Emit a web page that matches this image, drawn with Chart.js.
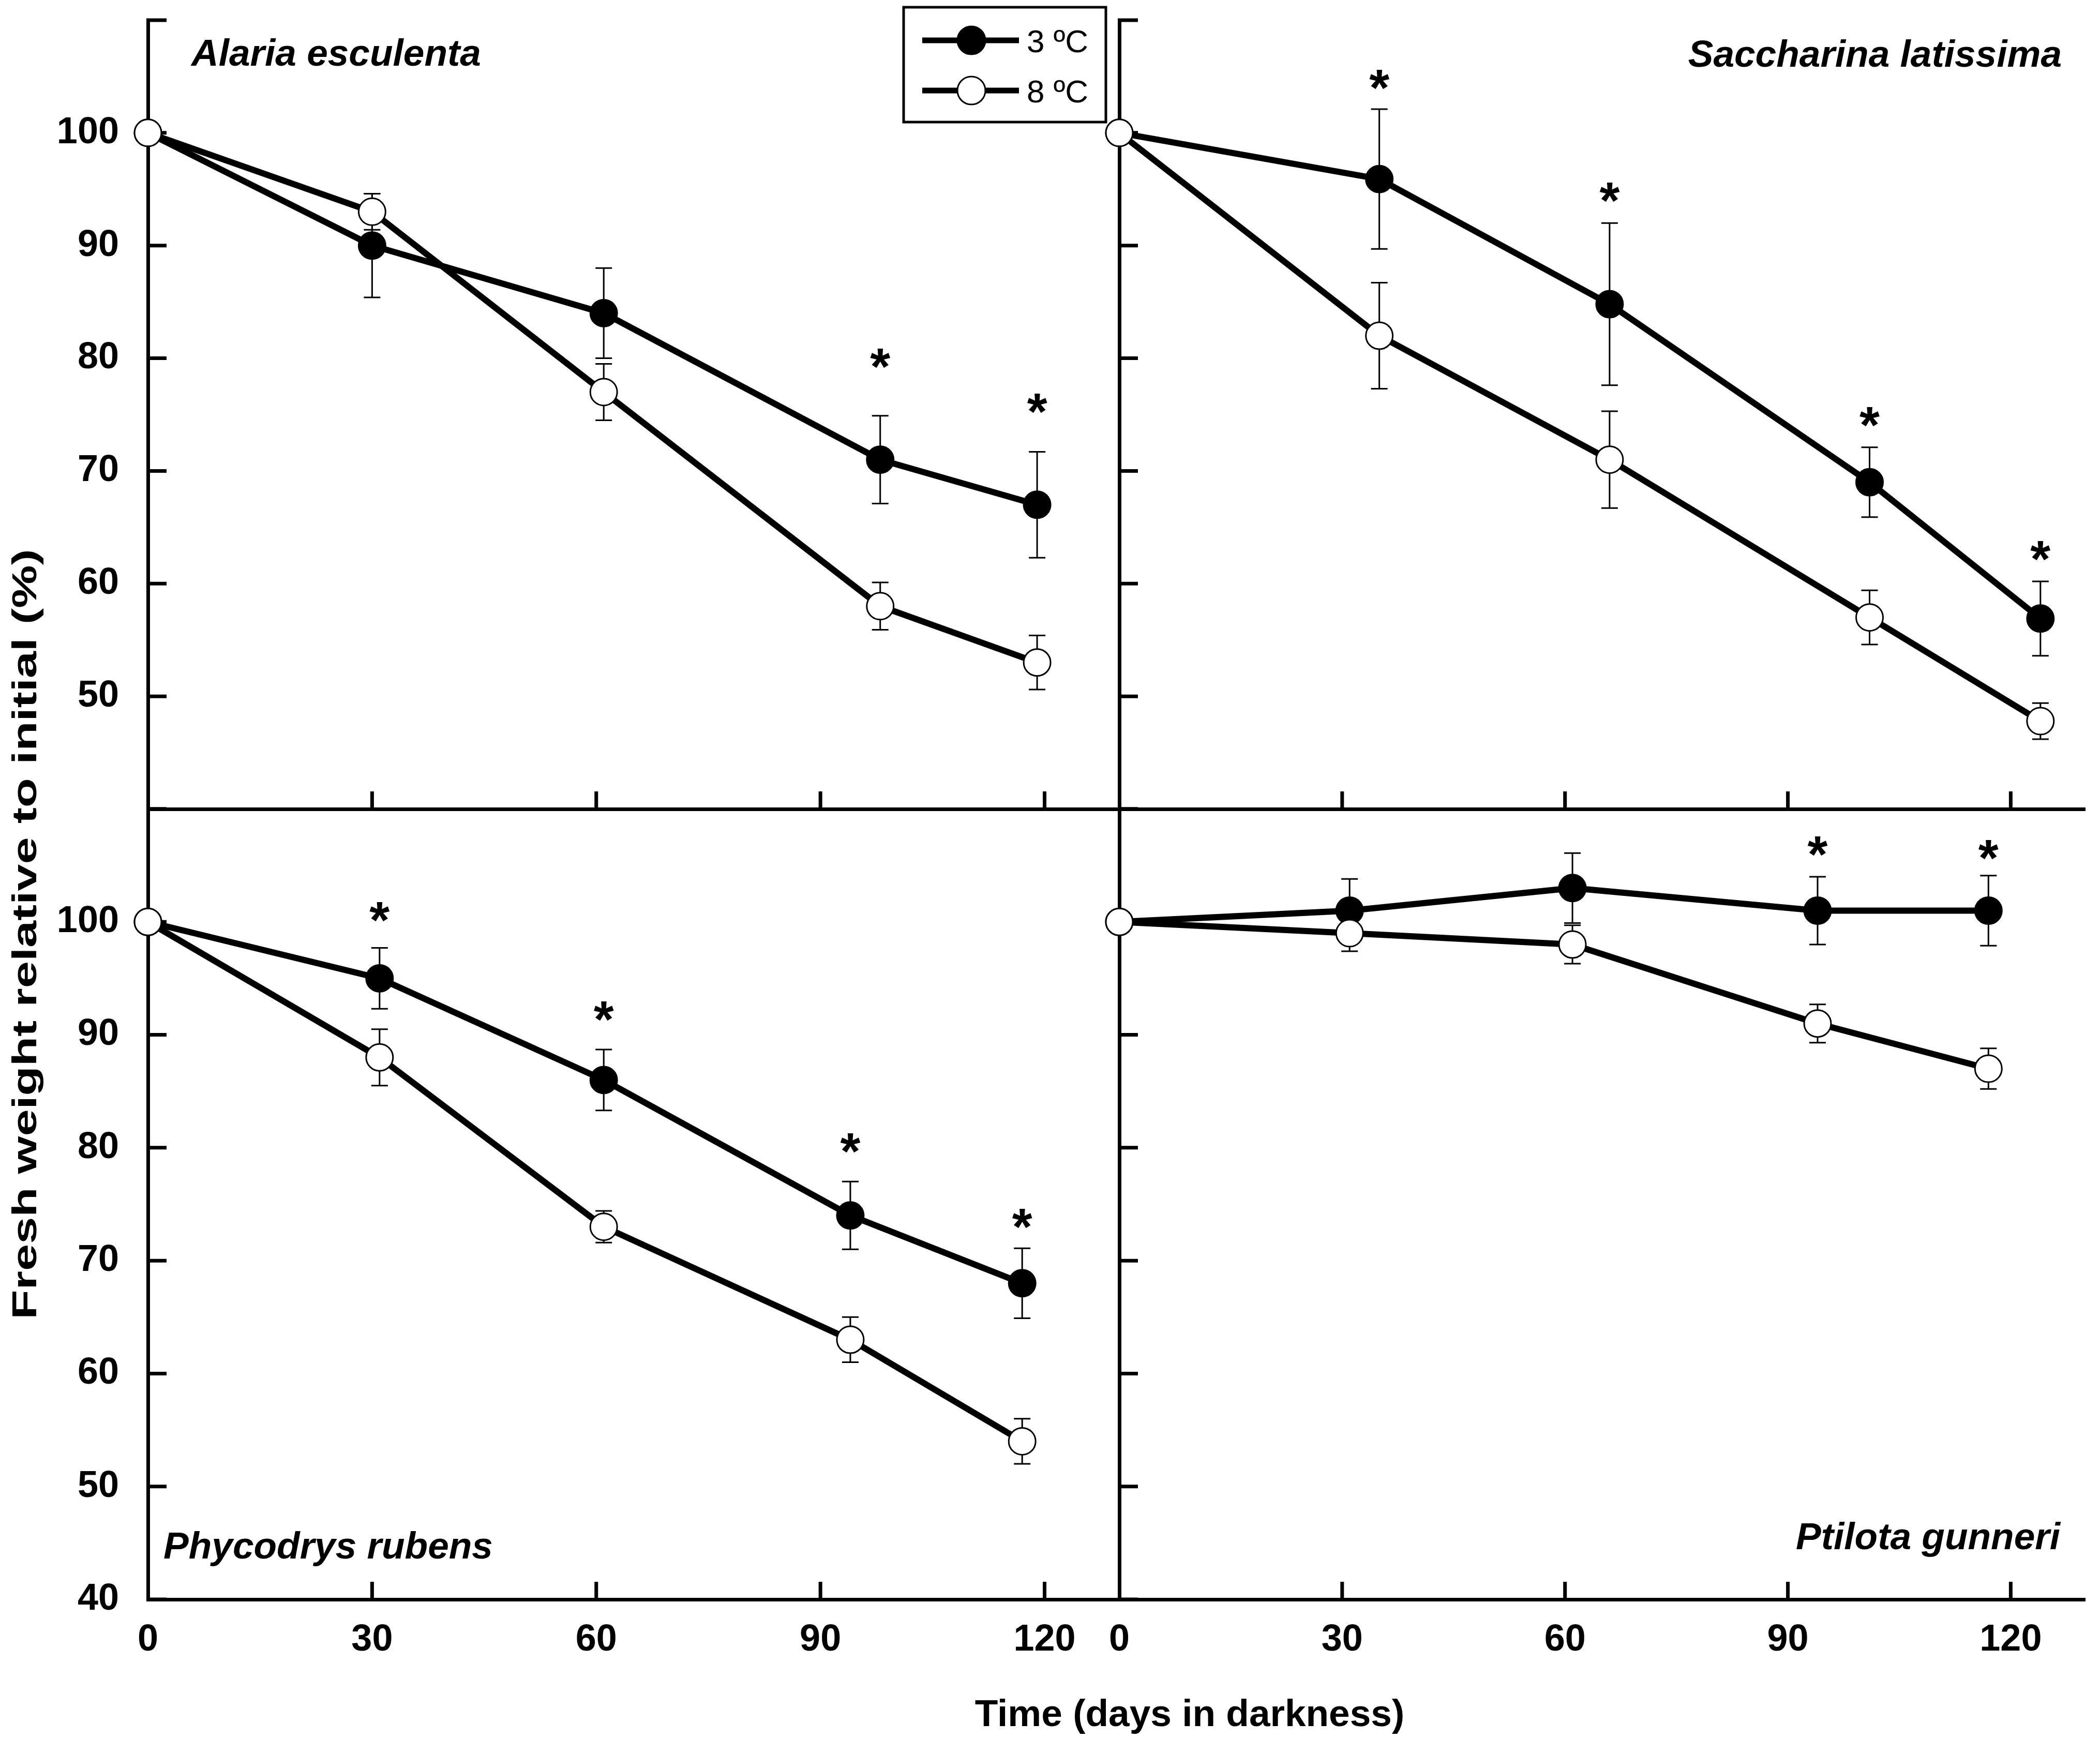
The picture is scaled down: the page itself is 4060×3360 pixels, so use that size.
<!DOCTYPE html>
<html>
<head>
<meta charset="utf-8">
<title>Fresh weight in darkness</title>
<script src="https://cdn.jsdelivr.net/npm/chart.js@4.4.1/dist/chart.umd.min.js"></script>
<style>
  html, body { margin: 0; padding: 0; background: #fff; }
  #page { position: relative; width: 4060px; height: 3360px; background: #fff; overflow: hidden; }
  #page canvas { position: absolute; }
  #ytitle {
    position: absolute; left: 47px; top: 1806px;
    font: bold 66px 'Liberation Sans', Arial, sans-serif; line-height: 66px;
    white-space: nowrap; color: #000;
    transform: translate(-50%, -50%) rotate(-90deg) scaleX(1.42);
  }
  #xtitle {
    position: absolute; left: 2300px; top: 3275px;
    font: bold 73px 'Liberation Sans', Arial, sans-serif; line-height: 73px;
    white-space: nowrap; color: #000;
    transform: translateX(-50%);
  }
</style>
</head>
<body>
<div id="page">
  <div id="ytitle">Fresh weight relative to initial (%)</div>
  <div id="xtitle">Time (days in darkness)</div>
</div>
<script>
// Ticks
const xTicks = [0, 30, 60, 90, 120];
const yTicks = [40, 50, 60, 70, 80, 90, 100, 110];

// Alaria esculenta
const alariaDays = [0, 30, 61, 98, 119];
const alaria3 = [100, 90, 84, 71, 67];
const alaria3Err = [0, 4.6, 4, 3.9, 4.7];
const alaria8 = [100, 93, 77, 58, 53];
const alaria8Err = [0, 1.6, 2.5, 2.1, 2.4];
const alariaStarDays = [98, 119];
const alariaStarVals = [80, 76];

// Saccharina latissima
const saccDays = [0, 35, 66, 101, 124];
const sacc3 = [100, 95.9, 84.8, 69, 56.9];
const sacc3Err = [0, 6.2, 7.2, 3.1, 3.3];
const sacc8 = [100, 82, 71, 57, 47.8];
const sacc8Err = [0, 4.7, 4.3, 2.4, 1.6];
const saccStarDays = [35, 66, 101, 124];
const saccStarVals = [104.7, 94.7, 74.8, 62.9];

// Phycodrys rubens
const phycoDays = [0, 31, 61, 94, 117];
const phyco3 = [100, 95, 86, 74, 68];
const phyco3Err = [0, 2.7, 2.7, 3, 3.1];
const phyco8 = [100, 88, 73, 63, 54];
const phyco8Err = [0, 2.5, 1.4, 2, 2];
const phycoStarDays = [31, 61, 94, 117];
const phycoStarVals = [100.9, 92.1, 80.4, 73.7];

// Ptilota gunneri
const ptiloDays = [0, 31, 61, 94, 117];
const ptilo3 = [100, 101, 103, 101, 101];
const ptilo3Err = [0, 2.8, 3.1, 3, 3.1];
const ptilo8 = [100, 99, 98, 91, 87];
const ptilo8Err = [0, 1.6, 1.7, 1.7, 1.8];
const ptiloStarDays = [94, 117];
const ptiloStarVals = [106.7, 106.4];

const seriesLabels = ['3 ºC', '8 ºC'];

const FONT = "'Liberation Sans', Arial, sans-serif";
Chart.defaults.font.family = FONT;
Chart.defaults.color = '#000';

const page = document.getElementById('page');

function toXY(days, vals) {
  return days.map((d, i) => ({ x: d, y: vals[i] }));
}

// Tira o padding que o Chart.js reserva para as labels, para a área ficar fixa
function noPad(s) {
  s.paddingTop = 0; s.paddingBottom = 0;
  s.paddingLeft = 0; s.paddingRight = 0;
}

// Barras de erro (desenhadas antes dos pontos)
const errorBarPlugin = {
  id: 'errorBars',
  beforeDatasetsDraw(chart) {
    const ctx = chart.ctx;
    const xs = chart.scales.x, ys = chart.scales.y;
    ctx.save();
    ctx.strokeStyle = '#000';
    ctx.lineWidth = 3;
    chart.data.datasets.forEach(ds => {
      ds.data.forEach((p, i) => {
        const e = ds.errors[i];
        if (!e) return;
        const px = xs.getPixelForValue(p.x);
        const hi = ys.getPixelForValue(p.y + e);
        const lo = ys.getPixelForValue(p.y - e);
        ctx.beginPath();
        ctx.moveTo(px, hi); ctx.lineTo(px, lo);
        ctx.moveTo(px - 16, hi); ctx.lineTo(px + 16, hi);
        ctx.moveTo(px - 16, lo); ctx.lineTo(px + 16, lo);
        ctx.stroke();
      });
    });
    ctx.restore();
  }
};

// Ticks para dentro da área do gráfico
const innerTickPlugin = {
  id: 'innerTicks',
  beforeDatasetsDraw(chart) {
    const { ctx, chartArea: ca } = chart;
    const xs = chart.scales.x, ys = chart.scales.y;
    ctx.save();
    ctx.strokeStyle = '#000';
    ctx.lineWidth = 7;
    ctx.beginPath();
    ys.ticks.forEach(t => {
      const py = ys.getPixelForValue(t.value);
      ctx.moveTo(ca.left - 3, py);
      ctx.lineTo(ca.left + 36, py);
    });
    xs.ticks.forEach(t => {
      if (t.value === 0) return;
      const px = xs.getPixelForValue(t.value);
      ctx.moveTo(px, ca.bottom + 3);
      ctx.lineTo(px, ca.bottom - 34);
    });
    ctx.stroke();
    ctx.restore();
  }
};

// Asteriscos e nome da espécie
function annotPlugin(cfg) {
  return {
    id: 'annot',
    afterDatasetsDraw(chart) {
      const { ctx, chartArea: ca } = chart;
      const xs = chart.scales.x, ys = chart.scales.y;
      ctx.save();
      ctx.fillStyle = '#000';
      ctx.font = 'bold 100px ' + FONT;
      ctx.textAlign = 'center';
      ctx.textBaseline = 'alphabetic';
      const m = ctx.measureText('*');
      const shift = (m.actualBoundingBoxAscent - m.actualBoundingBoxDescent) / 2;
      cfg.starDays.forEach((d, i) => {
        ctx.fillText('*', xs.getPixelForValue(d), ys.getPixelForValue(cfg.starVals[i]) + shift);
      });
      ctx.font = 'italic bold 73px ' + FONT;
      const n = cfg.name;
      const ty = n.fromTop ? ca.top + n.dy : ca.bottom - n.dy;
      if (n.align === 'left') {
        ctx.textAlign = 'left';
        ctx.fillText(n.text, ca.left + n.dx, ty);
      } else {
        ctx.textAlign = 'right';
        ctx.fillText(n.text, ca.right - n.dx, ty);
      }
      ctx.restore();
    }
  };
}

// Legenda com caixa
const legendPlugin = {
  id: 'boxLegend',
  afterDraw(chart) {
    const ctx = chart.ctx;
    const ds = chart.data.datasets;
    ctx.save();
    ctx.strokeStyle = '#000';
    ctx.lineWidth = 5;
    ctx.strokeRect(1747, 14, 391, 222);
    const rows = [78, 175];
    const order = [1, 0];
    rows.forEach((ry, r) => {
      const d = ds[order[r]];
      ctx.lineWidth = 11;
      ctx.beginPath();
      ctx.moveTo(1783, ry); ctx.lineTo(1970, ry);
      ctx.stroke();
      ctx.beginPath();
      ctx.arc(1878, ry, 27, 0, Math.PI * 2);
      ctx.fillStyle = d.pointBackgroundColor;
      ctx.fill();
      ctx.lineWidth = 3;
      ctx.stroke();
      ctx.fillStyle = '#000';
      ctx.font = '62px ' + FONT;
      ctx.textAlign = 'left';
      ctx.textBaseline = 'alphabetic';
      ctx.fillText(d.label, 1985, ry + 23);
    });
    ctx.restore();
  }
};

function makePanel(p) {
  const a = p.area, m = p.margin;
  const w = a.right - a.left + m.l + m.r;
  const h = a.bottom - a.top + m.t + m.b;
  const cv = document.createElement('canvas');
  cv.width = w; cv.height = h;
  cv.style.left = (a.left - m.l) + 'px';
  cv.style.top = (a.top - m.t) + 'px';
  cv.style.width = w + 'px';
  cv.style.height = h + 'px';
  page.appendChild(cv);

  const tickFont = { family: FONT, size: 72, weight: 'bold' };
  const plugins = [innerTickPlugin, errorBarPlugin, annotPlugin(p)];
  if (p.legend) plugins.push(legendPlugin);

  new Chart(cv, {
    type: 'scatter',
    data: {
      datasets: [
        {
          label: seriesLabels[1],
          data: toXY(p.days, p.warm),
          errors: p.warmErr,
          showLine: true,
          borderColor: '#000',
          borderWidth: 12,
          pointRadius: 26,
          pointBackgroundColor: '#fff',
          pointBorderColor: '#000',
          pointBorderWidth: 3,
          clip: false,
          order: 0
        },
        {
          label: seriesLabels[0],
          data: toXY(p.days, p.cold),
          errors: p.coldErr,
          showLine: true,
          borderColor: '#000',
          borderWidth: 12,
          pointRadius: 26,
          pointBackgroundColor: '#000',
          pointBorderColor: '#000',
          pointBorderWidth: 3,
          clip: false,
          order: 1
        }
      ]
    },
    options: {
      responsive: false,
      animation: false,
      devicePixelRatio: 1,
      events: [],
      layout: { padding: { left: 0, top: m.t, right: m.r, bottom: 0 } },
      plugins: { legend: { display: false }, tooltip: { enabled: false } },
      scales: {
        x: {
          type: 'linear',
          min: 0,
          max: 130,
          afterBuildTicks: s => { s.ticks = xTicks.map(v => ({ value: v })); },
          afterFit: s => { s.height = m.b; noPad(s); },
          grid: { display: false, drawTicks: false },
          border: { display: true, width: 7, color: '#000' },
          ticks: { display: p.showX, padding: 36, font: tickFont, color: '#000', maxRotation: 0, autoSkip: false }
        },
        y: {
          type: 'linear',
          min: 40,
          max: 110,
          afterBuildTicks: s => { s.ticks = yTicks.map(v => ({ value: v })); },
          afterFit: s => { s.width = m.l; noPad(s); },
          grid: { display: false, drawTicks: false },
          border: { display: true, width: 7, color: '#000' },
          ticks: {
            display: p.showY,
            padding: 56,
            font: tickFont,
            color: '#000',
            autoSkip: false,
            callback: v => (v >= 110 || v < p.yLabelMin) ? '' : String(v)
          }
        }
      }
    },
    plugins: plugins
  });
}

makePanel({
  area: { left: 286, top: 39, right: 2164, bottom: 1564 },
  margin: { l: 286, t: 39, r: 60, b: 60 },
  days: alariaDays, cold: alaria3, coldErr: alaria3Err, warm: alaria8, warmErr: alaria8Err,
  starDays: alariaStarDays, starVals: alariaStarVals,
  name: { text: 'Alaria esculenta', align: 'left', dx: 84, dy: 88, fromTop: true },
  showX: false, showY: true, yLabelMin: 50, legend: true
});

makePanel({
  area: { left: 2164, top: 39, right: 4045, bottom: 1564 },
  margin: { l: 60, t: 39, r: 15, b: 60 },
  days: saccDays, cold: sacc3, coldErr: sacc3Err, warm: sacc8, warmErr: sacc8Err,
  starDays: saccStarDays, starVals: saccStarVals,
  name: { text: 'Saccharina latissima', align: 'right', dx: 45, dy: 90, fromTop: true },
  showX: false, showY: false, yLabelMin: 50, legend: false
});

makePanel({
  area: { left: 286, top: 1564, right: 2164, bottom: 3092 },
  margin: { l: 286, t: 60, r: 60, b: 268 },
  days: phycoDays, cold: phyco3, coldErr: phyco3Err, warm: phyco8, warmErr: phyco8Err,
  starDays: phycoStarDays, starVals: phycoStarVals,
  name: { text: 'Phycodrys rubens', align: 'left', dx: 30, dy: 79, fromTop: false },
  showX: true, showY: true, yLabelMin: 40, legend: false
});

makePanel({
  area: { left: 2164, top: 1564, right: 4045, bottom: 3092 },
  margin: { l: 60, t: 60, r: 15, b: 268 },
  days: ptiloDays, cold: ptilo3, coldErr: ptilo3Err, warm: ptilo8, warmErr: ptilo8Err,
  starDays: ptiloStarDays, starVals: ptiloStarVals,
  name: { text: 'Ptilota gunneri', align: 'right', dx: 48, dy: 97, fromTop: false },
  showX: true, showY: false, yLabelMin: 40, legend: false
});
</script>
</body>
</html>
